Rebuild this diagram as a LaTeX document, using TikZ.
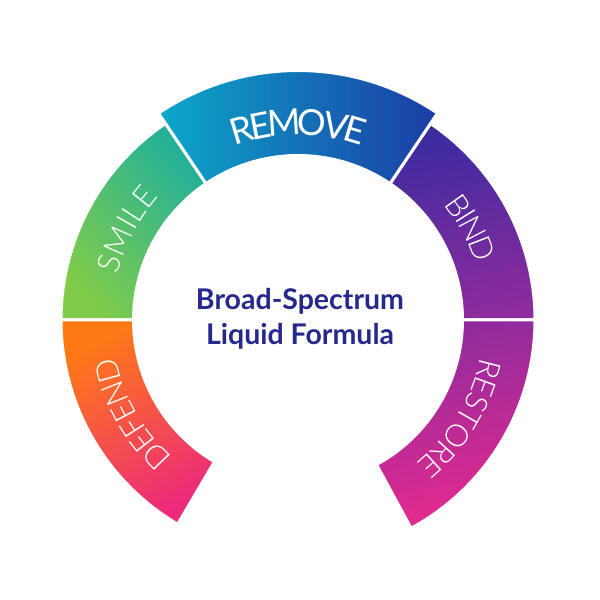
\documentclass[tikz,border=0pt]{standalone}
\usepackage{fontspec}
\setmainfont{Lato}
\newfontfamily\lightfont{Lato Light}
\newfontfamily\labfont{Lato}
\usetikzlibrary{decorations.text}
\definecolor{cLime}{HTML}{80CC4A}
\definecolor{cTeal}{HTML}{22B09A}
\definecolor{cCyan}{HTML}{0CA8CA}
\definecolor{cBlue}{HTML}{1B3CA6}
\definecolor{cIndigo}{HTML}{3A2B9F}
\definecolor{cPurple}{HTML}{8E2B9D}
\definecolor{cPink}{HTML}{E62A8E}
\definecolor{cOrange}{HTML}{FF7A16}
\definecolor{cRed}{HTML}{F64E48}
\definecolor{cRose}{HTML}{EC2A7C}
\definecolor{cNavy}{HTML}{26288C}
\tikzset{
  segline/.style={draw=white, line width=3pt, line join=miter},
  smalllab/.style={decorate, decoration={text effects along path, text={#1},
      text align=center, text effects/.cd, text along path, fit text to path,
      characters={font=\lightfont\fontsize{31}{31}\selectfont, text=white}}},
  biglab/.style={decorate, decoration={text effects along path, text={#1},
      text align=center, text effects/.cd, text along path, fit text to path,
      characters={font=\labfont\fontsize{36}{36}\selectfont, text=white}}},
  titletext/.style={font=\fontsize{28.5}{35}\selectfont\bfseries, text=cNavy, align=center}
}
\begin{document}
\begin{tikzpicture}[x=1pt,y=1pt]
\useasboundingbox (0,0) rectangle (600,600);
\begin{scope}[shift={(298pt,280pt)}]
% SMILE
\shade[segline, top color=cTeal, bottom color=cLime, shading angle=-50]
  (124:237pt) arc[start angle=124, end angle=180, radius=237pt]
  -- (180:164.5pt) arc[start angle=180, end angle=124, radius=164.5pt] -- cycle;
% DEFEND
\shade[segline, top color=cOrange, middle color=cRed, bottom color=cRose, shading angle=30]
  (180:237pt) arc[start angle=180, end angle=239.5, radius=237pt]
  -- (239.5:164.5pt) arc[start angle=239.5, end angle=180, radius=164.5pt] -- cycle;
% BIND
\shade[segline, top color=cIndigo, bottom color=cPurple, shading angle=10]
  (0:237pt) arc[start angle=0, end angle=56, radius=237pt]
  -- (56:164.5pt) arc[start angle=56, end angle=0, radius=164.5pt] -- cycle;
% RESTORE
\shade[segline, top color=cPurple, bottom color=cPink, shading angle=10]
  (-61.5:237pt) arc[start angle=-61.5, end angle=0, radius=237pt]
  -- (0:164.5pt) arc[start angle=0, end angle=-61.5, radius=164.5pt] -- cycle;
% REMOVE
\shade[segline, left color=cCyan, right color=cBlue]
  (56:249.5pt) arc[start angle=56, end angle=124, radius=249.5pt]
  -- (124:164.5pt) arc[start angle=124, end angle=56, radius=164.5pt] -- cycle;
% labels
\path[biglab=REMOVE] (110:185pt) arc[start angle=110, end angle=70, radius=185pt];
\path[smalllab=SMILE] (166:186pt) arc[start angle=166, end angle=138.5, radius=186pt];
\path[smalllab=BIND] (38.5:186pt) arc[start angle=38.5, end angle=17.5, radius=186pt];
\path[smalllab=RESTORE] (-11.5:186pt) arc[start angle=-11.5, end angle=-50.5, radius=186pt];
\path[smalllab=DEFEND] (227.5:186pt) arc[start angle=227.5, end angle=191.5, radius=186pt];
\end{scope}
\node[titletext] (title) at (300pt,281pt) {Broad-Spectrum\\Liquid Formula};
\end{tikzpicture}
\end{document}
